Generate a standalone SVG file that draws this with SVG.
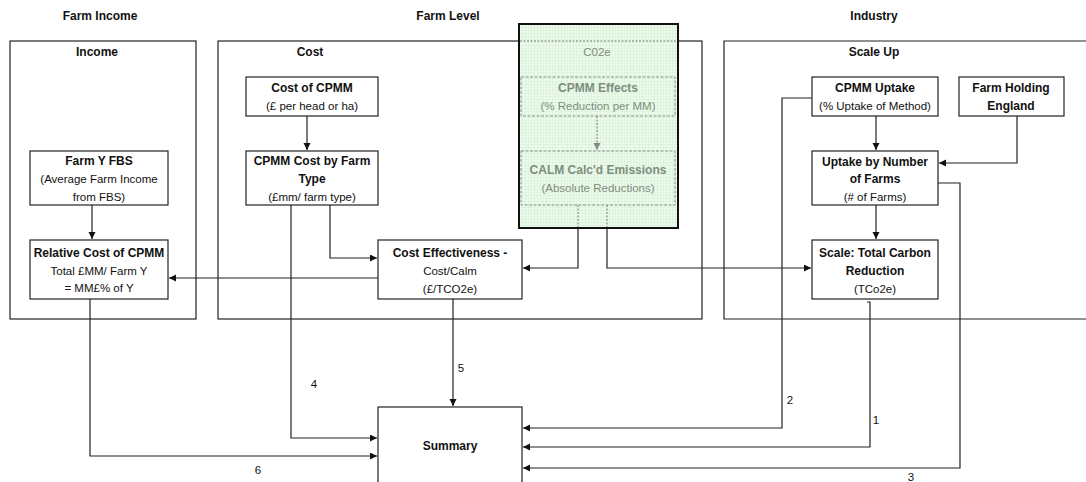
<svg xmlns="http://www.w3.org/2000/svg" width="1086" height="482" viewBox="0 0 1086 482">
<style>
text{font-family:"Liberation Sans",Arial,sans-serif;text-anchor:middle;fill:#111}
.h{font-size:12px;font-weight:bold}
.t{font-size:12px;font-weight:bold}
.s{font-size:11.5px}
.n{font-size:11.5px;fill:#111}
.g{fill:#7f8d7f}
.frame{fill:none;stroke:#222;stroke-width:1.2}
.box{fill:#fff;stroke:#222;stroke-width:1.2}
.dbox{fill:none;stroke:#8a8f8a;stroke-width:1;stroke-dasharray:3 1.5}
.c{fill:none;stroke:#222;stroke-width:1.2}
.cd{fill:none;stroke:#777;stroke-width:1;stroke-dasharray:2 1.5}
</style>
<defs>
<marker id="a" markerUnits="userSpaceOnUse" markerWidth="8" markerHeight="8" refX="7" refY="3.5" orient="auto"><path d="M0,0 L7,3.5 L0,7 z" fill="#111"/></marker>
<marker id="ag" markerUnits="userSpaceOnUse" markerWidth="8" markerHeight="8" refX="7" refY="3.5" orient="auto"><path d="M0,0 L7,3.5 L0,7 z" fill="#888"/></marker>
<pattern id="grid" width="3" height="3" patternUnits="userSpaceOnUse"><rect width="3" height="3" fill="#ecfbec"/><path d="M0,0.5 H3 M0.5,0 V3" stroke="#d6f0d6" stroke-width="0.6"/></pattern>
</defs>
<rect width="1086" height="482" fill="#fff"/>

<g id="headers">
<text class="h" x="100" y="20">Farm Income</text>
<text class="h" x="448" y="20">Farm Level</text>
<text class="h" x="874" y="20">Industry</text>
</g>

<g id="frame-income"><rect class="frame" x="10" y="41" width="186" height="278"/><text class="t" x="97" y="56">Income</text></g>
<g id="frame-cost"><rect class="frame" x="218" y="41" width="484" height="278"/><text class="t" x="310" y="56">Cost</text></g>
<g id="frame-scale"><path class="frame" d="M1090,41 H724 V319 H1090"/><text class="t" x="874" y="56">Scale Up</text></g>

<g id="connectors">
<path class="c" d="M307,116 V150" marker-end="url(#a)"/>
<path class="c" d="M330,205 V258 H377" marker-end="url(#a)"/>
<path class="c" d="M291,205 V438 H377" marker-end="url(#a)"/>
<path class="c" d="M92,205 V239" marker-end="url(#a)"/>
<path class="c" d="M378,278 H169" marker-end="url(#a)"/>
<path class="c" d="M90,299 V456 H377" marker-end="url(#a)"/>
<path class="c" d="M453,299 V406" marker-end="url(#a)"/>
<path class="c" d="M578,228 V268 H523" marker-end="url(#a)"/>
<path class="c" d="M607,228 V268 H811" marker-end="url(#a)"/>
<path class="c" d="M876,116 V150" marker-end="url(#a)"/>
<path class="c" d="M1017,116 V163 H939" marker-end="url(#a)"/>
<path class="c" d="M876,205 V239" marker-end="url(#a)"/>
<path class="c" d="M812,98 H782 V428 H523" marker-end="url(#a)"/>
<path class="c" d="M938,183 H960 V468 H523" marker-end="url(#a)"/>
<path class="c" d="M867,302 H870 V447 H523" marker-end="url(#a)"/>
<text class="n" x="314" y="388">4</text>
<text class="n" x="258" y="474">6</text>
<text class="n" x="461" y="372">5</text>
<text class="n" x="790" y="404">2</text>
<text class="n" x="876" y="424">1</text>
<text class="n" x="911" y="481">3</text>
</g>

<g id="co2e">
<rect x="519" y="24" width="159" height="204" fill="url(#grid)" stroke="#111" stroke-width="2"/>
<path class="cd" d="M520,41 H677"/>
<text class="s g" x="597" y="56">C02e</text>
<path class="cd" d="M597,116 V150" marker-end="url(#ag)"/>
<path class="cd" d="M578,205 V227 M607,205 V227"/>
</g>

<g id="cpmm-effects"><rect class="dbox" x="521" y="77" width="154" height="39"/><text class="t g" x="598" y="92">CPMM Effects</text><text class="s g" x="598" y="110">(% Reduction per MM)</text></g>
<g id="calm"><rect class="dbox" x="521" y="151" width="154" height="54"/><text class="t g" x="598" y="174">CALM Calc'd Emissions</text><text class="s g" x="598" y="192">(Absolute Reductions)</text></g>

<g id="cost-of-cpmm"><rect class="box" x="246" y="77" width="132" height="39"/><text class="t" x="312" y="92">Cost of CPMM</text><text class="s" x="312" y="110">(£ per head or ha)</text></g>
<g id="cpmm-cost-farm"><rect class="box" x="246" y="151" width="132" height="54"/><text class="t" x="312" y="165">CPMM Cost by Farm</text><text class="t" x="312" y="183">Type</text><text class="s" x="312" y="201">(£mm/ farm type)</text></g>
<g id="farm-y-fbs"><rect class="box" x="30" y="151" width="138" height="54"/><text class="t" x="99" y="165">Farm Y FBS</text><text class="s" x="99" y="183">(Average Farm Income</text><text class="s" x="99" y="201">from FBS)</text></g>
<g id="relative-cost"><rect class="box" x="30" y="240" width="138" height="59"/><text class="t" x="99" y="257">Relative Cost of CPMM</text><text class="s" x="99" y="275">Total £MM/ Farm Y</text><text class="s" x="99" y="292">= MM£% of Y</text></g>
<g id="cost-effectiveness"><rect class="box" x="378" y="240" width="144" height="59"/><text class="t" x="450" y="257">Cost Effectiveness -</text><text class="s" x="450" y="275">Cost/Calm</text><text class="s" x="450" y="293">(£/TCO2e)</text></g>
<g id="summary"><rect class="box" x="378" y="407" width="144" height="90"/><text class="t" x="450" y="450">Summary</text></g>
<g id="cpmm-uptake"><rect class="box" x="812" y="77" width="126" height="39"/><text class="t" x="875" y="92">CPMM Uptake</text><text class="s" x="875" y="110">(% Uptake of Method)</text></g>
<g id="farm-holding"><rect class="box" x="959" y="77" width="105" height="39"/><text class="t" x="1011" y="92">Farm Holding</text><text class="t" x="1011" y="110">England</text></g>
<g id="uptake-number"><rect class="box" x="812" y="151" width="126" height="54"/><text class="t" x="875" y="166">Uptake by Number</text><text class="t" x="875" y="183">of Farms</text><text class="s" x="875" y="201">(# of Farms)</text></g>
<g id="scale-total"><rect class="box" x="812" y="240" width="126" height="59"/><text class="t" x="875" y="257">Scale: Total Carbon</text><text class="t" x="875" y="275">Reduction</text><text class="s" x="875" y="293">(TCo2e)</text></g>
</svg>
